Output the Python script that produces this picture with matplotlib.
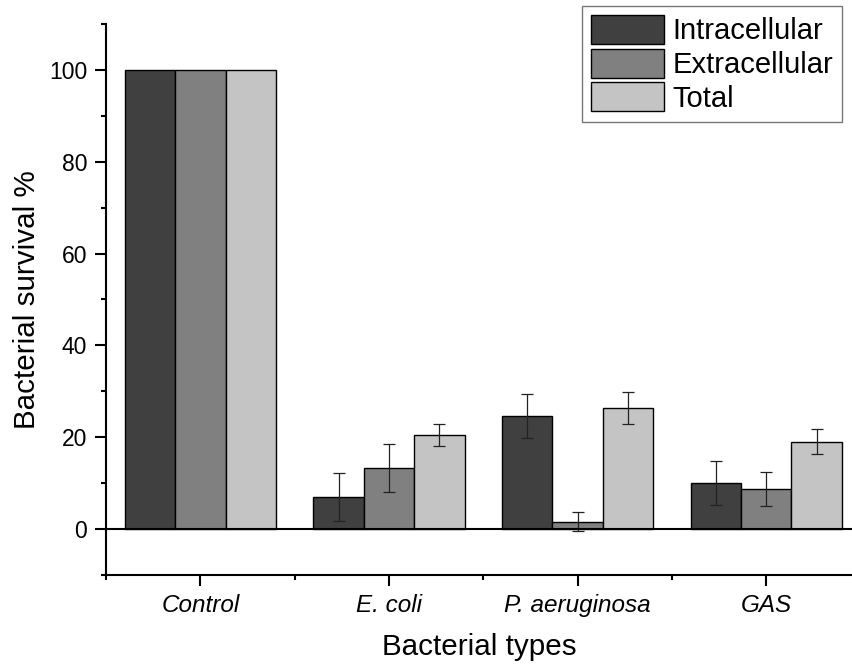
import numpy as np
import matplotlib
matplotlib.use('Agg')
import matplotlib.pyplot as plt
from matplotlib.ticker import MultipleLocator, FixedLocator

plt.rcParams['font.family'] = ['Liberation Sans', 'DejaVu Sans']

# data
categories = ['Control', 'E. coli', 'P. aeruginosa', 'GAS']
series = ['Intracellular', 'Extracellular', 'Total']
intra = [100, 7.0, 24.7, 10.1]
intra_err = [0, 5.2, 4.8, 4.8]
extra = [100, 13.3, 1.6, 8.8]
extra_err = [0, 5.3, 2.1, 3.7]
total = [100, 20.5, 26.3, 19.0]
total_err = [0, 2.4, 3.5, 2.7]
colors = ['#404040', '#808080', '#c4c4c4']

fig = plt.figure(figsize=(8.53, 6.67), dpi=100)
ax = fig.add_axes([106 / 853, 1 - 575 / 667, 1 - 106 / 853, 551 / 667])

x = np.arange(len(categories))
w = 0.267
vals = [intra, extra, total]
errs = [intra_err, extra_err, total_err]
for i, (v, e) in enumerate(zip(vals, errs)):
    pos = x + (i - 1) * w
    ax.bar(pos, v, width=w, color=colors[i], edgecolor='black', linewidth=1.0,
           label=series[i], zorder=2)
    e = np.array(e, dtype=float)
    m = e > 0
    ax.errorbar(pos[m], np.array(v)[m], yerr=e[m], fmt='none', ecolor='#222222',
                elinewidth=0.9, capsize=4, capthick=0.9, zorder=3)

ax.axhline(0, color='black', linewidth=1.5, zorder=4)

ax.set_xlim(-0.5, 3.46)
ax.set_ylim(-10, 110)

ax.yaxis.set_major_locator(MultipleLocator(20))
ax.yaxis.set_minor_locator(MultipleLocator(10))
ax.xaxis.set_major_locator(FixedLocator(x))
ax.xaxis.set_minor_locator(FixedLocator([-0.5, 0.5, 1.5, 2.5]))
ax.set_xticklabels(categories, fontstyle='italic', fontsize=17.5)
ax.tick_params(axis='y', which='major', length=8, width=1.5, labelsize=16.5, pad=5.5)
ax.tick_params(axis='y', which='minor', length=3.5, width=1.5)
ax.tick_params(axis='x', which='major', length=8, width=1.5, pad=6)
ax.tick_params(axis='x', which='minor', length=3.5, width=1.5)

for s in ['top', 'right']:
    ax.spines[s].set_visible(False)
for s in ['left', 'bottom']:
    ax.spines[s].set_linewidth(1.5)

ax.set_xlabel('Bacterial types', fontsize=21.3, labelpad=11)
ax.set_ylabel('Bacterial survival %', fontsize=21.3, labelpad=6)

leg = ax.legend(loc='upper right', bbox_to_anchor=(842 / 853, 1 - 6 / 667),
                bbox_transform=fig.transFigure, fontsize=21, frameon=True,
                fancybox=False, edgecolor='#555555', handlelength=2.5,
                handleheight=1.15, handletextpad=0.3, labelspacing=0.12,
                borderpad=0.3, borderaxespad=0)
leg.get_frame().set_linewidth(1.0)

fig.savefig('out.png', dpi=100, facecolor='white')
